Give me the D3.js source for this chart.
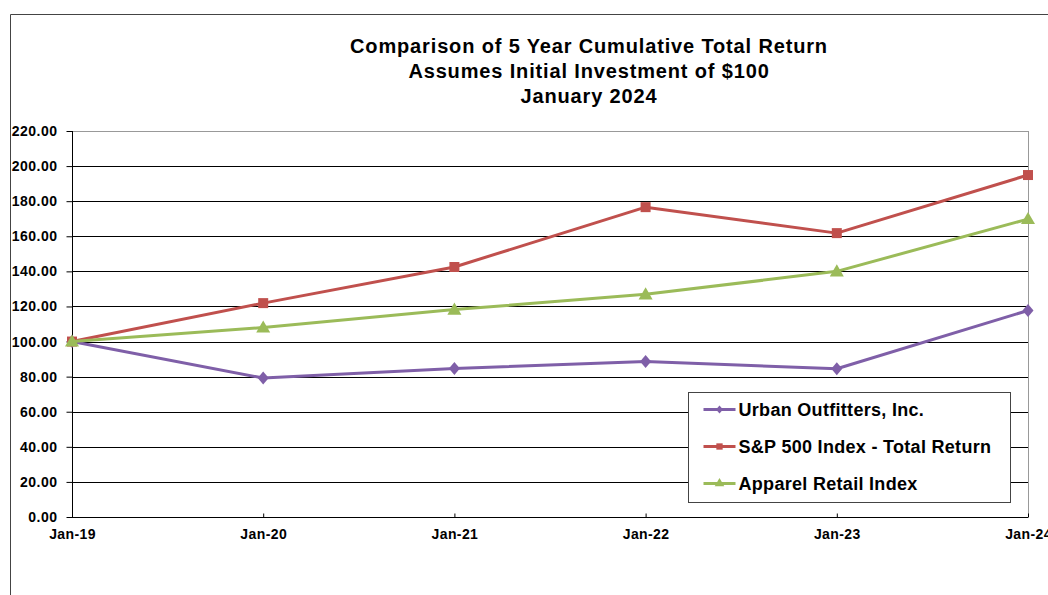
<!DOCTYPE html>
<html>
<head>
<meta charset="utf-8">
<script src="https://cdn.jsdelivr.net/npm/d3@7"></script>
<style>
  body { margin: 0; background: #fff; }
  svg { display: block; }
</style>
</head>
<body>
<div id="chart"></div>
<script>
// data
const periods = ['Jan-19', 'Jan-20', 'Jan-21', 'Jan-22', 'Jan-23', 'Jan-24'];
const urban = [100, 79.2, 84.6, 88.6, 84.5, 117.7];
const sp500 = [100, 121.9, 142.5, 176.6, 161.8, 194.9];
const apparel = [100, 108.0, 118.2, 126.9, 140.0, 169.8];
const seriesNames = ['Urban Outfitters, Inc.', 'S&P 500 Index - Total Return', 'Apparel Retail Index'];
const yTicks = [0, 20, 40, 60, 80, 100, 120, 140, 160, 180, 200, 220];
const titleLines = ['Comparison of 5 Year Cumulative Total Return', 'Assumes Initial Investment of $100', 'January 2024'];

const width = 1048;
const height = 595;
const margin = { top: 131, right: 20, bottom: 78, left: 72 };
const font = '"Liberation Sans", Arial, sans-serif';

const series = [
  { name: seriesNames[0], values: urban, color: '#7f5fa8', marker: 'diamond' },
  { name: seriesNames[1], values: sp500, color: '#c0504d', marker: 'square' },
  { name: seriesNames[2], values: apparel, color: '#9bbb59', marker: 'triangle' },
];

const svg = d3.select('#chart').append('svg')
  .attr('width', width)
  .attr('height', height);

// outer chart frame (only top and left edges are visible)
svg.append('path')
  .attr('d', `M10.5,${height} V14.5 H${width}`)
  .attr('fill', 'none')
  .attr('stroke', '#444')
  .attr('stroke-width', 1);

const x = d3.scalePoint()
  .domain(periods)
  .range([margin.left, 1028]);

const y = d3.scaleLinear()
  .domain([0, 220])
  .range([517, margin.top]);

// title
svg.append('g').selectAll('text')
  .data(titleLines)
  .enter().append('text')
  .attr('x', 589)
  .attr('y', (d, i) => 53 + i * 25)
  .attr('text-anchor', 'middle')
  .style('font-family', font)
  .style('font-weight', 'bold')
  .style('font-size', '20px')
  .style('letter-spacing', '0.85px')
  .text(d => d);

// gridlines
svg.append('g').selectAll('line')
  .data(yTicks.filter(d => d > 0))
  .enter().append('line')
  .attr('x1', margin.left)
  .attr('x2', 1028)
  .attr('y1', d => Math.round(y(d)) + 0.5)
  .attr('y2', d => Math.round(y(d)) + 0.5)
  .attr('stroke', d => (d === 220 ? '#999' : '#000'))
  .attr('stroke-width', 1);

// right edge of plot area
svg.append('line')
  .attr('x1', 1028.5).attr('x2', 1028.5)
  .attr('y1', y(220)).attr('y2', y(0))
  .attr('stroke', '#999');

// y axis
const yAxis = svg.append('g')
  .attr('transform', `translate(${margin.left + 0.5},0)`)
  .call(d3.axisLeft(y).tickValues(yTicks).tickFormat(d3.format('.2f')).tickSize(6).tickPadding(9));
yAxis.select('.domain').attr('stroke', '#000').attr('d', `M0,${y(220)}V${y(0)}`);
yAxis.selectAll('text')
  .style('font-family', font)
  .style('font-weight', 'bold')
  .style('font-size', '14px')
  .style('letter-spacing', '0.5px')
  .attr('fill', '#000');

// x axis
const xAxis = svg.append('g')
  .attr('transform', `translate(0,${Math.round(y(0)) + 0.5})`)
  .call(d3.axisBottom(x).tickSize(0).tickPadding(10));
xAxis.select('.domain').attr('stroke', '#000').attr('d', `M${margin.left},0H1028`);
xAxis.selectAll('.tick').append('line')
  .attr('y1', 0).attr('y2', -4)
  .attr('stroke', '#000');
xAxis.selectAll('text')
  .attr('dy', '0.85em')
  .style('font-family', font)
  .style('font-weight', 'bold')
  .style('font-size', '14px')
  .style('letter-spacing', '0.4px')
  .attr('fill', '#000');

// marker shapes
const diamond = (w, h) => `M0,${-h}L${w},0L0,${h}L${-w},0Z`;
const markerPath = {
  diamond: diamond(5.5, 6.5),
  square: d3.symbol().type(d3.symbolSquare).size(100)(),
  triangle: d3.symbol().type(d3.symbolTriangle).size(85)(),
};
const legendMarker = {
  diamond: diamond(3.5, 4),
  square: d3.symbol().type(d3.symbolSquare).size(40)(),
  triangle: d3.symbol().type(d3.symbolTriangle).size(40)(),
};

const line = d3.line()
  .x((d, i) => x(periods[i]))
  .y(d => y(d));

const plot = svg.append('g');

series.forEach((s) => {
  plot.append('path')
    .datum(s.values)
    .attr('fill', 'none')
    .attr('stroke', s.color)
    .attr('stroke-width', 3)
    .attr('stroke-linejoin', 'round')
    .attr('d', line);

  plot.append('g').selectAll('path')
    .data(s.values)
    .enter().append('path')
    .attr('transform', (d, i) => `translate(${x(periods[i])},${y(d) + (s.marker === 'triangle' ? 1 : 0)})`)
    .attr('d', markerPath[s.marker])
    .attr('fill', s.color);
});

// legend
const legend = svg.append('g')
  .attr('transform', 'translate(688.5,392.5)');

legend.append('rect')
  .attr('width', 322)
  .attr('height', 110)
  .attr('fill', '#fff')
  .attr('stroke', '#444')
  .attr('stroke-width', 1);

const item = legend.selectAll('g.item')
  .data(series)
  .enter().append('g')
  .attr('class', 'item')
  .attr('transform', (d, i) => `translate(0,${17 + i * 37})`);

item.append('line')
  .attr('x1', 15).attr('x2', 47)
  .attr('stroke', d => d.color)
  .attr('stroke-width', 3);

item.append('path')
  .attr('transform', 'translate(31,0)')
  .attr('d', d => legendMarker[d.marker])
  .attr('fill', d => d.color);

item.append('text')
  .attr('x', 50)
  .attr('dy', '0.36em')
  .style('font-family', font)
  .style('font-weight', 'bold')
  .style('font-size', '18px')
  .style('letter-spacing', '0.3px')
  .text(d => d.name);
</script>
</body>
</html>
